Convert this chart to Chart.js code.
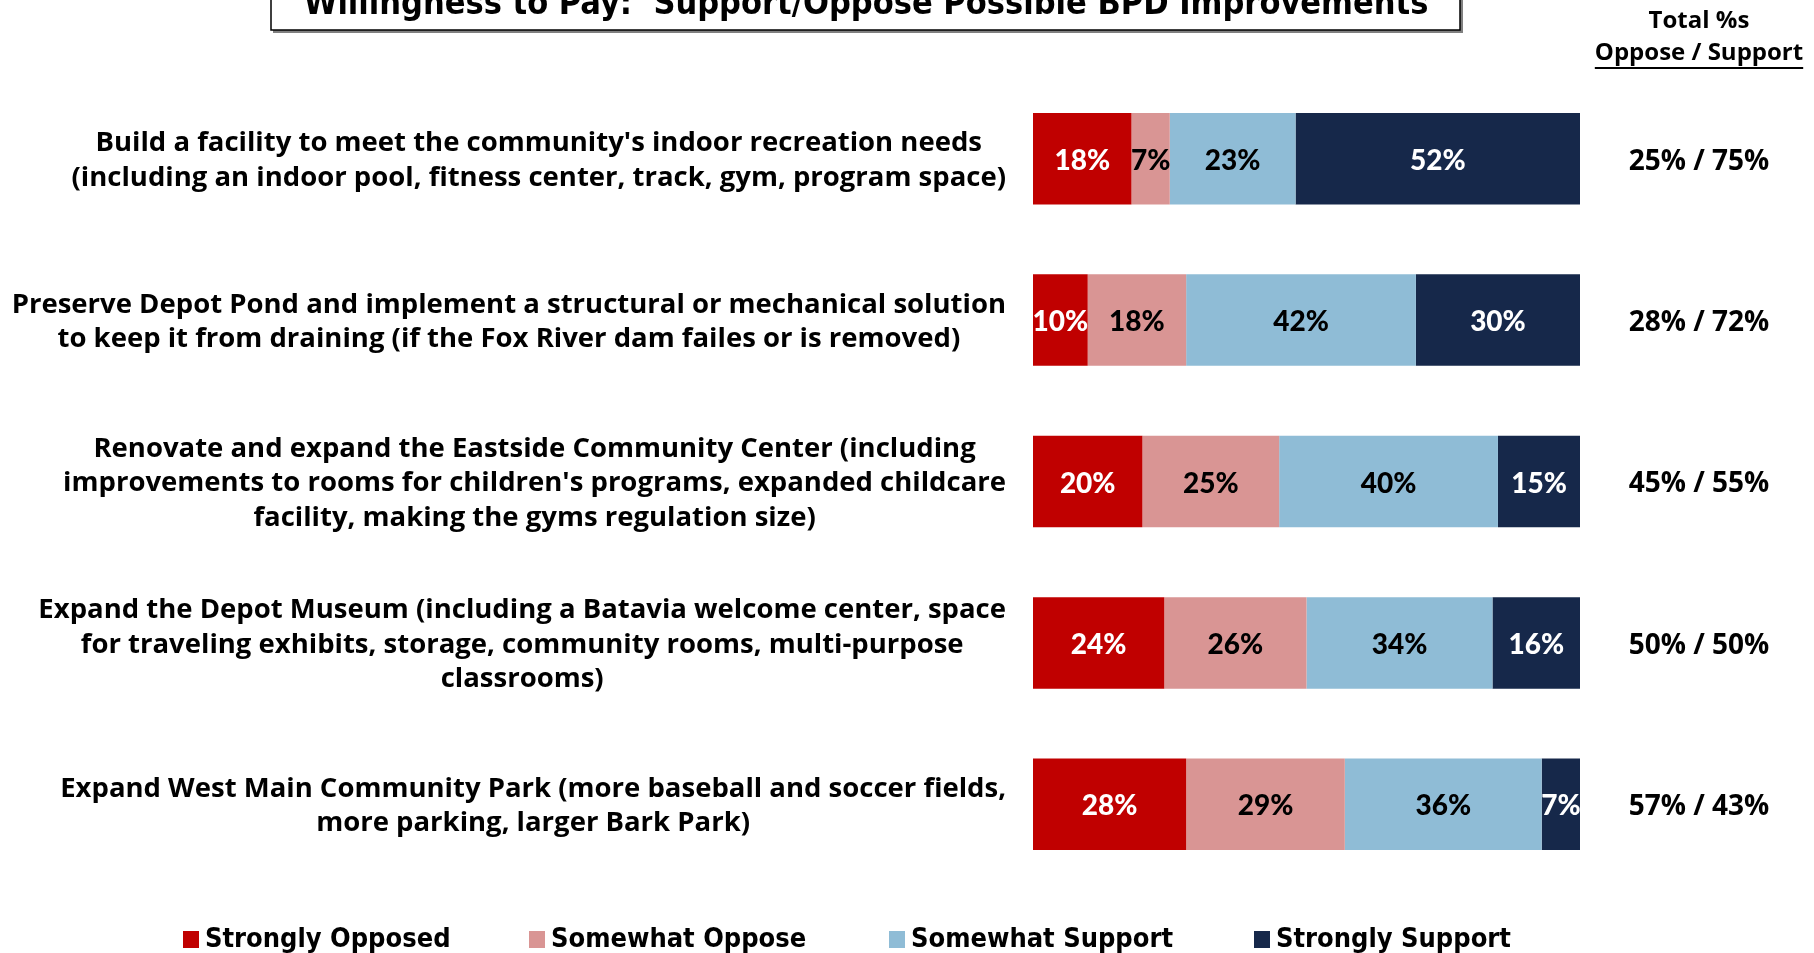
<!DOCTYPE html>
<html>
<head>
<meta charset="utf-8">
<script src="https://cdn.jsdelivr.net/npm/chart.js@4.4.1/dist/chart.umd.min.js"></script>
<style>
html,body{margin:0;padding:0;background:#fff;}
#wrap{width:1814px;height:953px;position:relative;}
</style>
</head>
<body>
<div id="wrap"><canvas id="c"></canvas></div>
<script>
const titleText = "Willingness to Pay:  Support/Oppose Possible BPD Improvements";
const categories = [
  ["Build a facility to meet the community's indoor recreation needs", "(including an indoor pool, fitness center, track, gym, program space)"],
  ["Preserve Depot Pond and implement a structural or mechanical solution", "to keep it from draining (if the Fox River dam failes or is removed)"],
  ["Renovate and expand the Eastside Community Center (including", "improvements to rooms for children's programs, expanded childcare", "facility, making the gyms regulation size)"],
  ["Expand the Depot Museum (including a Batavia welcome center, space", "for traveling exhibits, storage, community rooms, multi-purpose", "classrooms)"],
  ["Expand West Main Community Park (more baseball and soccer fields,", "more parking, larger Bark Park)"]
];
const seriesNames = ["Strongly Opposed", "Somewhat Oppose", "Somewhat Support", "Strongly Support"];
const stronglyOpposed = [18, 10, 20, 24, 28];
const somewhatOppose  = [7, 18, 25, 26, 29];
const somewhatSupport = [23, 42, 40, 34, 36];
const stronglySupport = [52, 30, 15, 16, 7];
const totalLabels = ["25% / 75%", "28% / 72%", "45% / 55%", "50% / 50%", "57% / 43%"];
const totalHeader = ["Total %s", "Oppose / Support"];

const colors = ["#C00000", "#D99594", "#8FBCD6", "#16284A"];
const labelColors = ["#FFFFFF", "#000000", "#000000", "#FFFFFF"];
const seriesData = [stronglyOpposed, somewhatOppose, somewhatSupport, stronglySupport];

const condensed = "'Liberation Sans Narrow', 'DejaVu Sans Condensed', 'Arial Narrow', sans-serif";
const gill = "'Open Sans', Lato, sans-serif";
const futura = "Lato, 'Open Sans', sans-serif";

const decorPlugin = {
  id: 'decor',
  afterDraw(chart) {
    const ctx = chart.ctx;
    const y = chart.scales.y;
    ctx.save();
    // Title box
    ctx.fillStyle = '#808080';
    ctx.fillRect(273, 30, 1190, 3);
    ctx.fillRect(1460, -5, 3, 38);
    ctx.fillStyle = '#fff';
    ctx.fillRect(271, -5, 1189, 35);
    ctx.strokeStyle = '#000';
    ctx.lineWidth = 1.5;
    ctx.strokeRect(271, -5, 1189, 35);
    ctx.fillStyle = '#000';
    ctx.font = "bold 34px " + condensed;
    ctx.textAlign = 'center';
    ctx.textBaseline = 'alphabetic';
    ctx.fillText(titleText, 866, 14);

    // Header right
    ctx.font = "bold 24px " + gill;
    ctx.textBaseline = 'middle';
    ctx.fillText(totalHeader[0], 1699, 21);
    ctx.fillText(totalHeader[1], 1699, 53);
    const hw = ctx.measureText(totalHeader[1]).width;
    ctx.fillRect(1699 - hw / 2, 67, hw, 2);

    // Category labels
    ctx.font = "bold 27.5px " + gill;
    categories.forEach((lines, i) => {
      const cy = y.getPixelForValue(i) + 2;
      const widest = Math.max(...lines.map(l => ctx.measureText(l).width));
      const cx = 1006 - widest / 2;
      const lh = 34.5;
      const y0 = cy - (lines.length - 1) * lh / 2;
      lines.forEach((l, k) => ctx.fillText(l, cx, y0 + k * lh));
    });

    // Totals
    ctx.font = "bold 28px " + gill;
    totalLabels.forEach((t, i) => {
      ctx.fillText(t, 1699, y.getPixelForValue(i) + 3);
    });

    // Legend
    ctx.font = "bold 27px " + condensed;
    ctx.textAlign = 'left';
    const lx = [183, 529, 889, 1254];
    seriesNames.forEach((n, i) => {
      ctx.fillStyle = colors[i];
      ctx.fillRect(lx[i], 931, 16, 17);
      ctx.fillStyle = '#000';
      ctx.fillText(n, lx[i] + 22, 940);
    });
    ctx.restore();
  },
  afterDatasetsDraw(chart) {
    const ctx = chart.ctx;
    ctx.save();
    ctx.font = "900 28px " + futura;
    ctx.textAlign = 'center';
    ctx.textBaseline = 'middle';
    chart.data.datasets.forEach((ds, di) => {
      const meta = chart.getDatasetMeta(di);
      meta.data.forEach((bar, i) => {
        const cx = (bar.x + bar.base) / 2;
        ctx.fillStyle = labelColors[di];
        ctx.fillText(ds.data[i] + '%', cx, bar.y + 2);
      });
    });
    ctx.restore();
  }
};

new Chart(document.getElementById('c'), {
  type: 'bar',
  data: {
    labels: categories.map(c => c.join(' ')),
    datasets: seriesNames.map((n, i) => ({
      label: n,
      data: seriesData[i],
      backgroundColor: colors[i],
      borderWidth: 0,
      categoryPercentage: 1,
      barPercentage: 0.567
    }))
  },
  options: {
    indexAxis: 'y',
    responsive: true,
    maintainAspectRatio: false,
    animation: false,
    layout: { padding: { left: 1033, right: 234, top: 78, bottom: 68 } },
    scales: {
      x: { stacked: true, min: 0, max: 100, display: false },
      y: { stacked: true, display: false }
    },
    plugins: { legend: { display: false }, tooltip: { enabled: false } }
  },
  plugins: [decorPlugin]
});
</script>
</body>
</html>
